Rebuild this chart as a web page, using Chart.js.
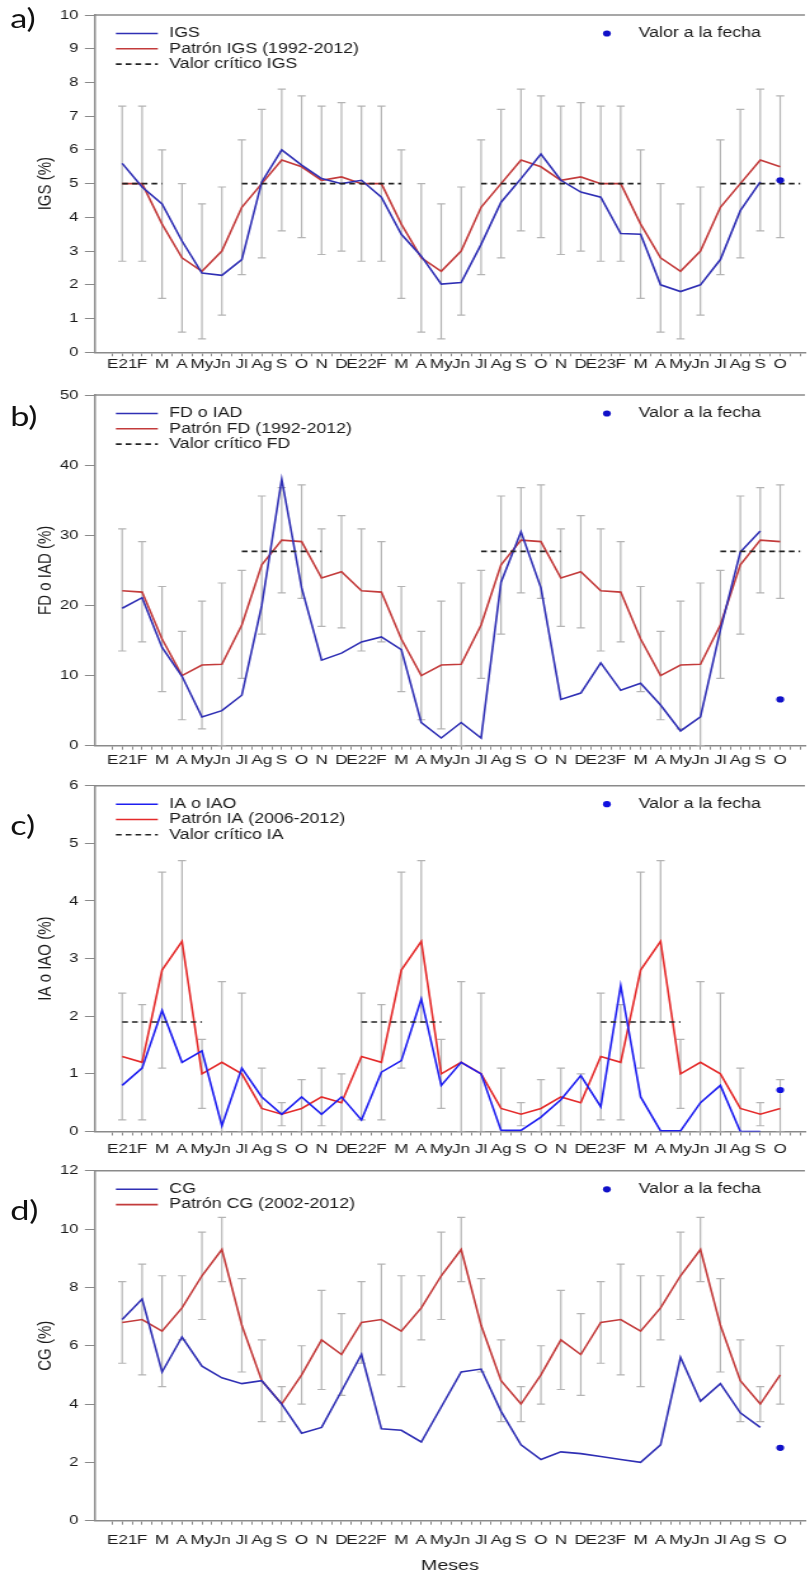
<!DOCTYPE html>
<html>
<head>
<meta charset="utf-8">
<script src="https://cdn.jsdelivr.net/npm/chart.js@4.4.0/dist/chart.umd.min.js"></script>
<style>
  html, body { margin: 0; padding: 0; background: #fff; }
  body { width: 810px; height: 1571px; overflow: hidden; position: relative; }
  /* the original figure is stretched sideways, so the whole stage is too */
  #stage { position: absolute; left: 0; top: 0; width: 638px; height: 1571px;
           transform: scaleX(1.2696); transform-origin: 0 0; }
  .panel { position: absolute; left: 0; }
  .tag { position: absolute; left: 8px; font-family: Lato, "Open Sans", sans-serif;
         font-size: 27px; line-height: 28px; color: #111; }
</style>
</head>
<body>
<div id="stage">
  <canvas class="panel" id="chartA" width="638" height="378" style="top:0px"></canvas>
  <canvas class="panel" id="chartB" width="638" height="390" style="top:378px"></canvas>
  <canvas class="panel" id="chartC" width="638" height="390" style="top:768px"></canvas>
  <canvas class="panel" id="chartD" width="638" height="413" style="top:1158px"></canvas>
  <div class="tag" style="top:4px">a)</div>
  <div class="tag" style="top:402px">b)</div>
  <div class="tag" style="top:811px">c)</div>
  <div class="tag" style="top:1196px">d)</div>
</div>
<script>
/* ---------- Meses (E21 ... O23) ---------- */
const months = ["E21","F","M","A","My","Jn","Jl","Ag","S","O","N","D",
                "E22","F","M","A","My","Jn","Jl","Ag","S","O","N","D",
                "E23","F","M","A","My","Jn","Jl","Ag","S","O"];

/* ---------- a) IGS ---------- */
const igs = [5.6,4.9,4.4,3.3,2.35,2.28,2.75,5.05,6.0,5.55,5.15,5.0,
             5.1,4.6,3.5,2.85,2.02,2.07,3.2,4.45,5.15,5.88,5.1,4.75,
             4.6,3.52,3.5,2.0,1.8,2.0,2.75,4.2,5.05,null];
const igsPatron = [5.0,5.0,3.8,2.8,2.4,3.0,4.3,5.0,5.7,5.5,5.1,5.2,
                   5.0,5.0,3.8,2.8,2.4,3.0,4.3,5.0,5.7,5.5,5.1,5.2,
                   5.0,5.0,3.8,2.8,2.4,3.0,4.3,5.0,5.7,5.5];
const igsLow  = [2.7,2.7,1.6,0.6,0.4,1.1,2.3,2.8,3.6,3.4,2.9,3.0,
                 2.7,2.7,1.6,0.6,0.4,1.1,2.3,2.8,3.6,3.4,2.9,3.0,
                 2.7,2.7,1.6,0.6,0.4,1.1,2.3,2.8,3.6,3.4];
const igsHigh = [7.3,7.3,6.0,5.0,4.4,4.9,6.3,7.2,7.8,7.6,7.3,7.4,
                 7.3,7.3,6.0,5.0,4.4,4.9,6.3,7.2,7.8,7.6,7.3,7.4,
                 7.3,7.3,6.0,5.0,4.4,4.9,6.3,7.2,7.8,7.6];
const igsCritico = [5,5,5,null,null,null,5,5,5,5,5,5,
                    5,5,5,null,null,null,5,5,5,5,5,5,
                    5,5,5,null,null,null,5,5,5,5,5];
const igsFecha = 5.1;

/* ---------- b) FD o IAD ---------- */
const fd = [19.6,21.1,14.0,9.9,4.1,5.0,7.2,20.0,38.0,22.5,12.2,13.2,
            14.8,15.5,13.7,3.3,1.1,3.3,1.1,23.3,30.5,22.5,6.6,7.5,
            11.8,7.9,8.9,5.8,2.1,4.1,16.5,27.6,30.6,null];
const fdPatron = [22.1,21.9,15.2,10.0,11.5,11.6,17.2,25.8,29.3,29.1,23.9,24.8,
                  22.1,21.9,15.2,10.0,11.5,11.6,17.2,25.8,29.3,29.1,23.9,24.8,
                  22.1,21.9,15.2,10.0,11.5,11.6,17.2,25.8,29.3,29.1];
const fdLow  = [13.5,14.8,7.7,3.7,2.4,0,9.6,15.9,21.8,21.0,17.0,16.8,
                13.5,14.8,7.7,3.7,2.4,0,9.6,15.9,21.8,21.0,17.0,16.8,
                13.5,14.8,7.7,3.7,2.4,0,9.6,15.9,21.8,21.0];
const fdHigh = [30.9,29.1,22.7,16.3,20.6,23.2,25.0,35.6,36.8,37.2,30.9,32.8,
                30.9,29.1,22.7,16.3,20.6,23.2,25.0,35.6,36.8,37.2,30.9,32.8,
                30.9,29.1,22.7,16.3,20.6,23.2,25.0,35.6,36.8,37.2];
const fdCritico = [null,null,null,null,null,null,27.7,27.7,27.7,27.7,27.7,null,
                   null,null,null,null,null,null,27.7,27.7,27.7,27.7,27.7,null,
                   null,null,null,null,null,null,27.7,27.7,27.7,27.7,27.7];
const fdFecha = 6.6;

/* ---------- c) IA o IAO ---------- */
const ia = [0.8,1.1,2.1,1.2,1.4,0.1,1.1,0.6,0.3,0.6,0.3,0.6,
            0.2,1.03,1.23,2.3,0.8,1.2,1.0,0.02,0.02,0.25,0.55,0.97,
            0.43,2.53,0.6,0.01,0.01,0.5,0.8,0.0,0.0,null];
const iaPatron = [1.3,1.2,2.8,3.3,1.0,1.2,1.0,0.4,0.3,0.4,0.6,0.5,
                  1.3,1.2,2.8,3.3,1.0,1.2,1.0,0.4,0.3,0.4,0.6,0.5,
                  1.3,1.2,2.8,3.3,1.0,1.2,1.0,0.4,0.3,0.4];
const iaLow  = [0.2,0.2,1.1,1.9,0.4,0,0,0,0.1,0,0.1,0,
                0.2,0.2,1.1,1.9,0.4,0,0,0,0.1,0,0.1,0,
                0.2,0.2,1.1,1.9,0.4,0,0,0,0.1,0];
const iaHigh = [2.4,2.2,4.5,4.7,1.6,2.6,2.4,1.1,0.5,0.9,1.1,1.0,
                2.4,2.2,4.5,4.7,1.6,2.6,2.4,1.1,0.5,0.9,1.1,1.0,
                2.4,2.2,4.5,4.7,1.6,2.6,2.4,1.1,0.5,0.9];
const iaCritico = [1.9,1.9,1.9,1.9,1.9,null,null,null,null,null,null,null,
                   1.9,1.9,1.9,1.9,1.9,null,null,null,null,null,null,null,
                   1.9,1.9,1.9,1.9,1.9,null,null,null,null,null];
const iaFecha = 0.72;

/* ---------- d) CG ---------- */
const cg = [6.9,7.6,5.1,6.3,5.3,4.9,4.7,4.8,4.0,3.0,3.2,4.45,
            5.7,3.15,3.1,2.7,3.9,5.1,5.2,3.75,2.6,2.1,2.36,2.3,
            2.2,2.1,2.0,2.6,5.6,4.1,4.7,3.7,3.2,null];
const cgPatron = [6.8,6.9,6.5,7.3,8.4,9.3,6.7,4.8,4.0,5.0,6.2,5.7,
                  6.8,6.9,6.5,7.3,8.4,9.3,6.7,4.8,4.0,5.0,6.2,5.7,
                  6.8,6.9,6.5,7.3,8.4,9.3,6.7,4.8,4.0,5.0];
const cgLow  = [5.4,5.0,4.6,6.2,6.9,8.2,5.1,3.4,3.4,4.0,4.5,4.3,
                5.4,5.0,4.6,6.2,6.9,8.2,5.1,3.4,3.4,4.0,4.5,4.3,
                5.4,5.0,4.6,6.2,6.9,8.2,5.1,3.4,3.4,4.0];
const cgHigh = [8.2,8.8,8.4,8.4,9.9,10.4,8.3,6.2,4.6,6.0,7.9,7.1,
                8.2,8.8,8.4,8.4,9.9,10.4,8.3,6.2,4.6,6.0,7.9,7.1,
                8.2,8.8,8.4,8.4,9.9,10.4,8.3,6.2,4.6,6.0];
const cgFecha = 2.5;

/* ---------- shared look ---------- */
Chart.defaults.font.family = "'Liberation Sans', Arial, sans-serif";
Chart.defaults.color = "#222";
const AXIS = "#8a8a8a";
const toXY = (arr) => arr.map((v, i) => ({ x: i, y: v }));

/* grey min-max bars under the lines */
const barrasError = {
  id: "barrasError",
  beforeDatasetsDraw(chart, args, opts) {
    const { ctx, chartArea, scales: { x, y } } = chart;
    ctx.save();
    ctx.beginPath();
    ctx.rect(chartArea.left, chartArea.top - 2, chartArea.right - chartArea.left, chartArea.bottom - chartArea.top + 2);
    ctx.clip();
    ctx.strokeStyle = "#b4b4b4";
    ctx.lineWidth = 1.2;
    opts.low.forEach((lo, i) => {
      const px = x.getPixelForValue(i);
      const yLo = y.getPixelForValue(lo);
      const yHi = y.getPixelForValue(opts.high[i]);
      ctx.beginPath();
      ctx.moveTo(px, yLo); ctx.lineTo(px, yHi);
      ctx.moveTo(px - 3.2, yHi); ctx.lineTo(px + 3.2, yHi);
      ctx.moveTo(px - 3.2, yLo); ctx.lineTo(px + 3.2, yLo);
      ctx.stroke();
    });
    ctx.restore();
  }
};

/* frame top line and the in-plot legend */
const leyenda = {
  id: "leyenda",
  afterDraw(chart, args, opts) {
    const { ctx, chartArea } = chart;
    ctx.save();
    ctx.strokeStyle = AXIS;
    ctx.lineWidth = 1.5;
    ctx.beginPath();
    ctx.moveTo(chartArea.left, chartArea.top);
    ctx.lineTo(chartArea.right, chartArea.top);
    ctx.stroke();

    ctx.font = "14px 'Liberation Sans', Arial, sans-serif";
    ctx.fillStyle = "#1a1a1a";
    ctx.textBaseline = "middle";
    const x0 = chartArea.left + 16.5;
    opts.items.forEach((it, k) => {
      const yy = chartArea.top + 18.5 + k * 15.3;
      ctx.strokeStyle = it.color;
      ctx.lineWidth = 1.6;
      ctx.setLineDash(it.dash || []);
      ctx.beginPath();
      ctx.moveTo(x0, yy); ctx.lineTo(x0 + 33, yy);
      ctx.stroke();
      ctx.setLineDash([]);
      ctx.fillText(it.text, x0 + 42, yy);
    });
    const yd = chartArea.top + 18.5;
    ctx.fillStyle = opts.dotColor;
    ctx.beginPath();
    ctx.arc(478, yd, 3.1, 0, Math.PI * 2);
    ctx.fill();
    ctx.fillStyle = "#1a1a1a";
    ctx.fillText("Valor a la fecha", 503, yd);
    ctx.restore();
  }
};

function makePanel(id, p) {
  const datasets = [
    { label: "Valor a la fecha", data: [{ x: months.length - 1, y: p.fecha }], showLine: false,
      pointRadius: 3.1, pointBackgroundColor: p.dot, pointBorderWidth: 0 },
    { label: p.names[1], data: toXY(p.serie), borderColor: p.blue, borderWidth: 1.6, pointRadius: 0 },
    { label: p.names[2], data: toXY(p.patron), borderColor: p.red, borderWidth: 1.6, pointRadius: 0 }
  ];
  if (p.critico) {
    datasets.splice(1, 0, { label: p.names[3], data: toXY(p.critico), borderColor: "#222",
      borderWidth: 1.6, borderDash: [4.5, 3.2], pointRadius: 0, spanGaps: false });
  }
  const items = [
    { text: p.names[1], color: p.blue },
    { text: p.names[2], color: p.red }
  ];
  if (p.critico) items.push({ text: p.names[3], color: "#222", dash: [4.5, 3.2] });

  return new Chart(document.getElementById(id), {
    type: "line",
    plugins: [barrasError, leyenda],
    data: { datasets },
    options: {
      responsive: false,
      animation: false,
      layout: { padding: { left: 27, right: 0, top: p.padTop, bottom: 0 } },
      elements: { line: { tension: 0 } },
      scales: {
        x: {
          type: "linear",
          min: -1.364, max: 34.24,
          afterBuildTicks: (s) => {
            const t = [];
            for (let v = -0.5; v <= 34; v += 0.5) t.push({ value: v });
            s.ticks = t;
          },
          afterFit: (s) => { s.height = p.xHeight; },
          grid: { drawOnChartArea: false, drawTicks: true, tickLength: 4, color: AXIS, lineWidth: 1 },
          border: { display: true, color: AXIS, width: 1.5 },
          ticks: {
            autoSkip: false, maxRotation: 0, padding: p.tickPad,
            font: { size: 13.5 }, color: "#1a1a1a",
            callback: (v) => (Number.isInteger(v) && months[v]) ? months[v] : ""
          },
          title: p.xTitle ? { display: true, text: p.xTitle, font: { size: 15.5 }, color: "#1a1a1a",
                              padding: { top: 0, bottom: -4 } } : { display: false }
        },
        y: {
          min: 0, max: p.max,
          afterFit: (s) => { s.width = 47.8; },
          grid: { drawOnChartArea: false, drawTicks: true, tickLength: 8, color: AXIS, lineWidth: 1 },
          border: { display: true, color: AXIS, width: 1.5 },
          ticks: { stepSize: p.step, padding: 5, font: { size: 13 }, color: "#1a1a1a" },
          title: { display: true, text: p.yTitle, font: { size: 15 }, color: "#1a1a1a",
                   padding: { top: 0, bottom: 0 } }
        }
      },
      plugins: {
        legend: { display: false },
        tooltip: { enabled: false },
        barrasError: { low: p.low, high: p.high },
        leyenda: { items, dotColor: p.dot }
      }
    }
  });
}

const BLUE = "#2f2fb4", RED = "#c33b3b";

makePanel("chartA", {
  serie: igs, patron: igsPatron, critico: igsCritico, low: igsLow, high: igsHigh, fecha: igsFecha,
  names: ["", "IGS", "Patrón IGS (1992-2012)", "Valor crítico IGS"],
  yTitle: "IGS (%)", max: 10, step: 1, blue: BLUE, red: RED, dot: "#1010c8",
  padTop: 15, xHeight: 25.7, tickPad: 0
});
makePanel("chartB", {
  serie: fd, patron: fdPatron, critico: fdCritico, low: fdLow, high: fdHigh, fecha: fdFecha,
  names: ["", "FD o IAD", "Patrón FD (1992-2012)", "Valor crítico FD"],
  yTitle: "FD o IAD (%)", max: 50, step: 10, blue: BLUE, red: RED, dot: "#1010c8",
  padTop: 17, xHeight: 22.3, tickPad: 2.5
});
makePanel("chartC", {
  serie: ia, patron: iaPatron, critico: iaCritico, low: iaLow, high: iaHigh, fecha: iaFecha,
  names: ["", "IA o IAO", "Patrón IA (2006-2012)", "Valor crítico IA"],
  yTitle: "IA o IAO (%)", max: 6, step: 1, blue: "#1e1ef0", red: "#e42a2a", dot: "#1010e0",
  padTop: 17.7, xHeight: 26.5, tickPad: 5.5
});
makePanel("chartD", {
  serie: cg, patron: cgPatron, critico: null, low: cgLow, high: cgHigh, fecha: cgFecha,
  names: ["", "CG", "Patrón CG (2002-2012)"],
  yTitle: "CG (%)", max: 12, step: 2, blue: BLUE, red: RED, dot: "#1010c8",
  padTop: 12, xHeight: 50.3, tickPad: 7.5, xTitle: "Meses"
});
</script>
</body>
</html>
